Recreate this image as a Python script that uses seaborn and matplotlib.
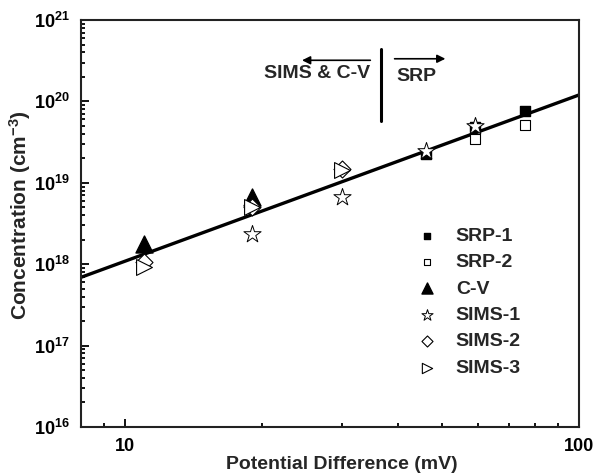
import matplotlib
matplotlib.use("Agg")
import matplotlib.pyplot as plt
import matplotlib.ticker as mticker
import seaborn as sns
import numpy as np
import pandas as pd

# ---- data ----
srp1_x = [46, 59, 76]
srp1_y = [2.26e19, 4.9e19, 7.7e19]
srp2_x = [59, 76]
srp2_y = [3.42e19, 5.1e19]
cv_x = [11, 19]
cv_y = [1.77e18, 6.6e18]
sims1_x = [19, 30, 46, 59]
sims1_y = [2.33e18, 6.75e18, 2.45e19, 4.95e19]
sims2_x = [11, 19, 30]
sims2_y = [1.07e18, 5.0e18, 1.47e19]
sims3_x = [11, 19, 30]
sims3_y = [9.3e17, 5.05e18, 1.44e19]
fit_x = [8, 100]
fit_y = [6.9e17, 1.2e20]

x_ticks = [10, 100]
y_ticks = [1e16, 1e17, 1e18, 1e19, 1e20, 1e21]

sns.set_style("ticks")
plt.rcParams["font.family"] = ["Liberation Sans", "DejaVu Sans"]
plt.rcParams["font.weight"] = "bold"
plt.rcParams["mathtext.fontset"] = "custom"
plt.rcParams["mathtext.rm"] = "Liberation Sans:bold"
plt.rcParams["mathtext.bf"] = "Liberation Sans:bold"
plt.rcParams["mathtext.it"] = "Liberation Sans:bold"

fig = plt.figure(figsize=(5.96, 4.75), dpi=100)
ax = fig.add_axes([81 / 596, 1 - 427 / 475, (579 - 81) / 596, (427 - 20) / 475])

ax.set_xscale("log")
ax.set_yscale("log")

sns.lineplot(x=fit_x, y=fit_y, ax=ax, color="black", lw=2.4, legend=False)

series = [
    ("SRP-1", srp1_x, srp1_y, "s", "black", 60, 1.0),
    ("SRP-2", srp2_x, srp2_y, "s", "white", 60, 0.8),
    ("C-V", cv_x, cv_y, "^", "black", 150, 1.0),
    ("SIMS-1", sims1_x, sims1_y, "*", "white", 170, 0.7),
    ("SIMS-2", sims2_x, sims2_y, "D", "white", 75, 0.8),
    ("SIMS-3", sims3_x, sims3_y, ">", "white", 130, 0.8),
]
for name, xs, ys, mk, fc, s, lw in series:
    df = pd.DataFrame({"x": xs, "y": ys})
    sns.scatterplot(data=df, x="x", y="y", ax=ax, marker=mk, s=s,
                    facecolor=fc, edgecolor="black", linewidth=lw,
                    label=name, zorder=3)

ax.set_xlim(8, 100)
ax.set_ylim(1e16, 1e21)

ax.xaxis.set_major_locator(mticker.FixedLocator(x_ticks))
ax.xaxis.set_major_formatter(mticker.FixedFormatter(["10", "100"]))
ax.xaxis.set_minor_locator(mticker.LogLocator(base=10, subs=np.arange(2, 10)))
ax.xaxis.set_minor_formatter(mticker.NullFormatter())
ax.yaxis.set_major_locator(mticker.FixedLocator(y_ticks))
ax.yaxis.set_major_formatter(mticker.FuncFormatter(
    lambda v, p: r"$\mathbf{10^{%d}}$" % int(round(np.log10(v)))))
ax.yaxis.set_minor_locator(mticker.LogLocator(base=10, subs=np.arange(2, 10), numticks=20))
ax.yaxis.set_minor_formatter(mticker.NullFormatter())

ax.tick_params(which="both", direction="in", top=False, right=False, width=1.3,
               colors="black")
ax.tick_params(which="major", length=6, labelsize=13, pad=8)
ax.tick_params(which="minor", length=3.2)
for sp in ax.spines.values():
    sp.set_linewidth(1.5)
    sp.set_color("#222222")

ax.set_xlabel("Potential Difference (mV)", fontsize=14, fontweight="bold")
ax.xaxis.set_label_coords((342 - 81) / 498, -0.072)
ax.set_ylabel(r"Concentration (cm$^{\mathbf{-3}}$)", fontsize=15, fontweight="bold")
ax.yaxis.set_label_coords((33 - 81) / 498, (427 - 215) / 407)

# annotation: divider and arrows
ax.plot([36.7, 36.7], [5.7e19, 4.4e20], color="black", lw=2.2)
ax.annotate("", xy=(24.2, 3.2e20), xytext=(35.2, 3.2e20),
            arrowprops=dict(arrowstyle="-|>", color="black", lw=1.2, mutation_scale=12))
ax.annotate("", xy=(51.5, 3.34e20), xytext=(38.7, 3.34e20),
            arrowprops=dict(arrowstyle="-|>", color="black", lw=1.2, mutation_scale=12))
ax.text(26.5, 2.23e20, "SIMS & C-V", fontsize=14, fontweight="bold", ha="center", va="center")
ax.text(43.9, 2.05e20, "SRP", fontsize=14, fontweight="bold", ha="center", va="center")

leg = ax.legend(loc="upper left", bbox_to_anchor=(0.655, 0.51), frameon=False,
                fontsize=14, markerscale=0.65, handletextpad=0.9, labelspacing=0.45,
                borderaxespad=0, handlelength=1.2)
for t in leg.get_texts():
    t.set_fontweight("bold")

fig.savefig("out.png", dpi=100)
